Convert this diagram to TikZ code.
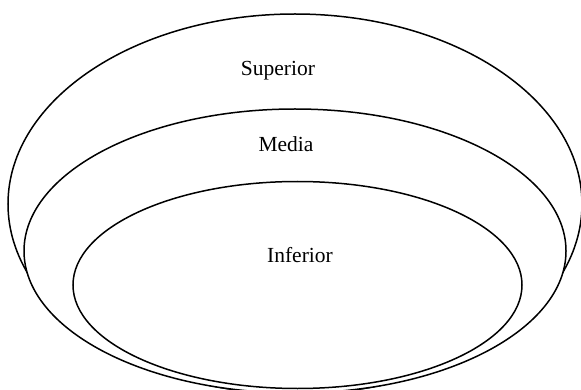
\documentclass[tikz,border=0pt]{standalone}
\usepackage{fontspec}
\setmainfont{Liberation Serif}
\tikzset{
  ring/.style={draw=black, fill=white, line width=1.5pt},
  lbl/.style={font=\fontsize{21.5}{24}\selectfont, anchor=base, inner sep=0pt}
}
\begin{document}
\begin{tikzpicture}[x=1pt,y=-1pt]
\useasboundingbox (0,0) rectangle (581,390);
\begin{scope}
\clip (0,0) rectangle (581,390);
\draw[ring] (295,204) ellipse [x radius=287, y radius=190];
\draw[ring] (295,251) ellipse [x radius=271, y radius=142];
\draw[ring] (297.5,285) ellipse [x radius=224.5, y radius=103.5];
\end{scope}
\node[lbl] (sup) at (278,76) {Superior};
\node[lbl] (med) at (286,152) {Media};
\node[lbl] (inf) at (300,262) {Inferior};
\end{tikzpicture}
\end{document}
